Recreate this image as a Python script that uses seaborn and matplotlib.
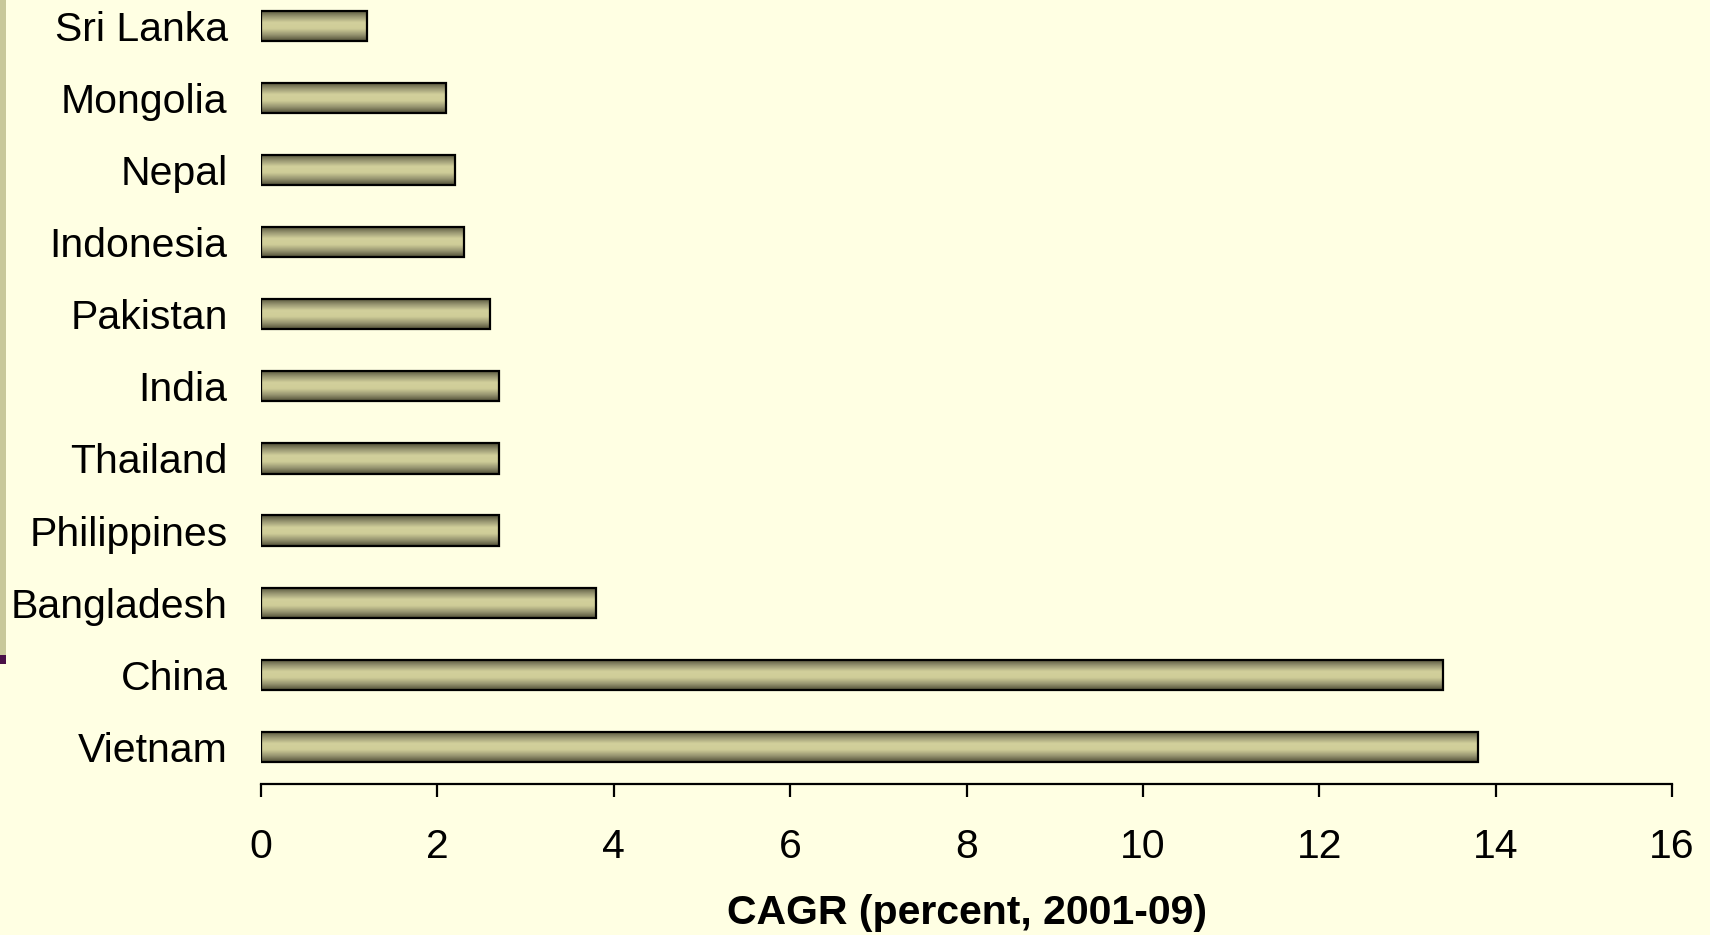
import numpy as np
import pandas as pd
import matplotlib
matplotlib.use("Agg")
import matplotlib.pyplot as plt
from matplotlib.colors import LinearSegmentedColormap
from matplotlib.patches import Rectangle
import seaborn as sns

# Compound annual growth rate by country, 2001-09
countries = ["Sri Lanka", "Mongolia", "Nepal", "Indonesia", "Pakistan", "India",
             "Thailand", "Philippines", "Bangladesh", "China", "Vietnam"]
cagr = [1.2, 2.1, 2.2, 2.3, 2.6, 2.7, 2.7, 2.7, 3.8, 13.4, 13.8]
x_ticks = [0, 2, 4, 6, 8, 10, 12, 14, 16]
x_label = "CAGR (percent, 2001-09)"

BG = "#FFFFE3"
W, H = 1710, 935
FS = 29.5

sns.set_theme(style="white")
plt.rcParams["font.family"] = ["Liberation Sans", "DejaVu Sans"]

fig = plt.figure(figsize=(W / 100, H / 100), dpi=100, facecolor=BG)
ax = fig.add_axes([261 / W, 1 - 784 / H, (1672 - 261) / W, 784 / H])
ax.set_facecolor(BG)

df = pd.DataFrame({"country": countries, "cagr": cagr})
sns.barplot(data=df, x="cagr", y="country", order=countries, orient="h",
            width=0.42, color="#cfcd98", edgecolor="black", linewidth=1.6,
            ax=ax, zorder=3)

# Shaded fill: dark edges, light centre, clipped to each bar
shade = LinearSegmentedColormap.from_list(
    "shade", ["#4f4e36", "#969470", "#d2d09c", "#cfcd98", "#969470", "#4f4e36"])
grad = np.linspace(0, 1, 256).reshape(-1, 1)
for p in list(ax.patches):
    x0, y0 = p.get_x(), p.get_y()
    w, h = p.get_width(), p.get_height()
    im = ax.imshow(grad, extent=[x0, x0 + w, y0 + h, y0], aspect="auto",
                   cmap=shade, origin="upper", zorder=2.5, interpolation="bilinear")
    im.set_clip_path(p)
    p.set_facecolor("none")

ax.set_xlim(0, 16)
ax.set_ylim(10.514, -0.357)
ax.set_aspect("auto")
ax.set_xticks(x_ticks)
ax.set_xticklabels([str(t) for t in x_ticks])

for s in ["left", "top", "right"]:
    ax.spines[s].set_visible(False)
ax.spines["bottom"].set_color("black")
ax.spines["bottom"].set_linewidth(1.6)

ax.tick_params(axis="x", bottom=True, direction="out", length=9.5, width=1.6,
               color="black", labelsize=FS, labelcolor="black", pad=22)
ax.tick_params(axis="y", left=False, length=0, labelsize=FS,
               labelcolor="black", pad=24)
ax.set_ylabel("")
ax.set_xlabel(x_label, fontsize=FS, fontweight="bold", color="black", labelpad=20)

# Decorative strip along the left edge
fig.patches.append(Rectangle((0, 1 - 655 / H), 6 / W, 655 / H,
                             transform=fig.transFigure, facecolor="#c8c89a",
                             edgecolor="none"))
fig.patches.append(Rectangle((0, 1 - 664 / H), 6 / W, 9 / H,
                             transform=fig.transFigure, facecolor="#4a1048",
                             edgecolor="none"))

fig.savefig("out.png", dpi=100, facecolor=BG)
